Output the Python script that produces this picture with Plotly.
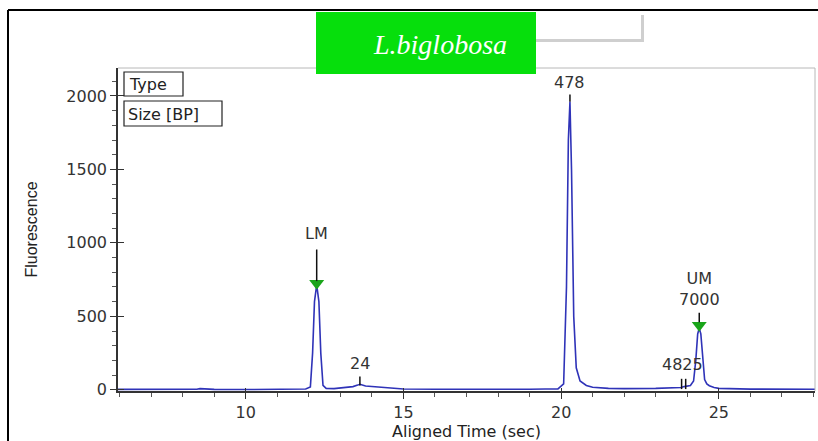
import plotly.graph_objects as go

# Electropherogram trace (time in sec, fluorescence)
time = [5.95, 7.0, 8.0, 8.45, 8.55, 9.0, 10.0, 11.0, 11.5, 11.9, 12.05, 12.12, 12.18, 12.25,
        12.32, 12.38, 12.45, 12.55, 12.8, 13.1, 13.4, 13.55, 13.62, 13.8, 14.2, 14.6, 15.0,
        16.0, 17.0, 18.0, 19.0, 19.5, 19.9, 20.08, 20.17, 20.23, 20.28, 20.33, 20.4, 20.48,
        20.6, 20.8, 21.0, 21.5, 22.0, 23.0, 23.5, 23.8, 23.9, 24.0, 24.1, 24.2, 24.27, 24.33,
        24.38, 24.43, 24.49, 24.55, 24.62, 24.7, 24.85, 25.0, 26.0, 27.0, 28.05]
fluor = [3, 3, 2, 4, 8, 3, 2, 3, 4, 6, 20, 250, 600, 715,
         600, 250, 30, 10, 8, 14, 22, 32, 38, 26, 18, 10, 6,
         4, 3, 3, 4, 6, 6, 40, 700, 1700, 1960, 1500, 500, 150,
         60, 30, 18, 10, 8, 10, 14, 16, 22, 24, 30, 60, 200, 380,
         420, 380, 200, 70, 40, 28, 16, 10, 5, 4, 4]

# Peak labels
label_text = ["LM", "24", "478", "UM<br>7000", "4825"]
label_time = [12.25, 13.62, 20.28, 24.38, 23.85]
label_y = [985, 100, 2015, 535, 95]

# Size standard markers (green triangles)
marker_time = [12.25, 24.38]
marker_fluor = [725, 440]

FONT = "DejaVu Sans, Verdana, Arial"
FS = 16

fig = go.Figure()
fig.add_trace(go.Scatter(x=time, y=fluor, mode="lines",
                         line=dict(color="#2f33b8", width=1.6), showlegend=False,
                         hoverinfo="skip"))
fig.add_trace(go.Scatter(x=marker_time, y=marker_fluor, mode="markers",
                         marker=dict(symbol="triangle-down", color="#1aa51a", size=13),
                         showlegend=False))
# invisible trace to activate overlay axis for inward tick marks
fig.add_trace(go.Scatter(x=[time[0]], y=[fluor[0]], mode="markers", opacity=0,
                         xaxis="x2", yaxis="y2", showlegend=False, hoverinfo="skip"))

for t, yv, txt in zip(label_time, label_y, label_text):
    fig.add_annotation(x=t, y=yv, text=txt, showarrow=False, yanchor="bottom",
                       font=dict(family=FONT, size=FS, color="#333"))

# vertical leader lines
lead_time = [12.25, 13.62, 20.28, 24.38, 23.82, 23.95]
lead_y0 = [740, 30, 1960, 460, 5, 5]
lead_y1 = [955, 90, 2010, 525, 75, 75]
for t, a, b in zip(lead_time, lead_y0, lead_y1):
    fig.add_shape(type="line", x0=t, x1=t, y0=a, y1=b, xref="x", yref="y",
                  line=dict(color="#111", width=1.5))

L, R, T, B = 118, 3, 68, 50
W, H = 818, 441
pw, ph = W - L - R, H - T - B


def px(x):
    return (x - L) / pw


def py(y):
    return (H - B - y) / ph


shapes = [
    dict(type="line", xref="paper", yref="paper", x0=px(8), x1=px(818), y0=py(10), y1=py(10),
         line=dict(color="black", width=2)),
    dict(type="line", xref="paper", yref="paper", x0=px(8), x1=px(8), y0=py(10), y1=py(441),
         line=dict(color="black", width=2)),
    dict(type="line", xref="paper", yref="paper", x0=0, x1=1, y0=1, y1=1,
         line=dict(color="#b8b8b8", width=1)),
    dict(type="line", xref="paper", yref="paper", x0=1, x1=1, y0=0, y1=1,
         line=dict(color="#b8b8b8", width=1)),
    dict(type="rect", xref="paper", yref="paper", x0=px(533), x1=px(644), y0=py(15), y1=py(42),
         fillcolor="#cfcfcf", line=dict(width=0)),
    dict(type="rect", xref="paper", yref="paper", x0=px(530), x1=px(641), y0=py(13), y1=py(39),
         fillcolor="white", line=dict(width=0)),
    dict(type="rect", xref="paper", yref="paper", x0=px(316), x1=px(536), y0=py(12), y1=py(74),
         fillcolor="#06df0c", line=dict(width=0)),
    dict(type="rect", xref="paper", yref="paper", x0=px(124), x1=px(183), y0=py(72), y1=py(96),
         fillcolor="white", line=dict(color="#222", width=1.2)),
    dict(type="rect", xref="paper", yref="paper", x0=px(124), x1=px(222), y0=py(101), y1=py(126),
         fillcolor="white", line=dict(color="#222", width=1.2)),
]
for s in shapes:
    fig.add_shape(**s)

fig.add_annotation(xref="paper", yref="paper", x=px(440), y=py(44), text="<i>L.biglobosa</i>",
                   showarrow=False, yanchor="middle", xanchor="center",
                   font=dict(family="Liberation Serif, Times New Roman", size=28, color="white"))
fig.add_annotation(xref="paper", yref="paper", x=px(127), y=py(84), text="Type",
                   xanchor="left", yanchor="middle", showarrow=False,
                   font=dict(family=FONT, size=FS, color="#222"))
fig.add_annotation(xref="paper", yref="paper", x=px(126), y=py(114), text="Size [BP]",
                   xanchor="left", yanchor="middle", showarrow=False,
                   font=dict(family=FONT, size=FS, color="#222"))

XR = [5.95, 28.05]
YR = [-8, 2190]
fig.update_layout(
    xaxis=dict(range=XR, tickvals=[10, 15, 20, 25], ticks="outside", ticklen=6,
               tickcolor="#333", showline=True, linecolor="#333", linewidth=1.5,
               showgrid=False, zeroline=False,
               minor=dict(dtick=1, tick0=0, ticks="outside", ticklen=4, tickcolor="#555"),
               tickfont=dict(family=FONT, size=FS, color="#333"),
               title=dict(text="Aligned Time (sec)", standoff=0,
                          font=dict(family=FONT, size=FS, color="#222"))),
    yaxis=dict(range=YR, tickvals=[0, 500, 1000, 1500, 2000], ticks="outside",
               ticklen=6, tickcolor="#333", showline=True, linecolor="#333", linewidth=1.5,
               showgrid=False, zeroline=False,
               minor=dict(dtick=100, tick0=0, ticks="outside", ticklen=4, tickcolor="#555"),
               tickfont=dict(family=FONT, size=FS, color="#333"),
               title=dict(text="Fluorescence", standoff=25,
                          font=dict(family="Liberation Sans Narrow, Liberation Sans, Arial",
                                    size=16, color="#222"))),
    xaxis2=dict(range=XR, overlaying="x", tickvals=[10, 15, 20, 25], ticks="inside",
                ticklen=3, tickcolor="#333", showticklabels=False, showgrid=False,
                zeroline=False, anchor="y"),
    yaxis2=dict(range=YR, overlaying="y", tickvals=[0, 500, 1000, 1500, 2000],
                ticks="inside", ticklen=6, tickcolor="#333", showticklabels=False,
                showgrid=False, zeroline=False, anchor="x", side="left"),
    width=W, height=H, margin=dict(l=L, r=R, t=T, b=B),
    plot_bgcolor="white", paper_bgcolor="white",
)

fig.write_html("out.html", config={"displayModeBar": False},
               post_script="document.body.style.margin='0';document.body.style.overflow='hidden';")
